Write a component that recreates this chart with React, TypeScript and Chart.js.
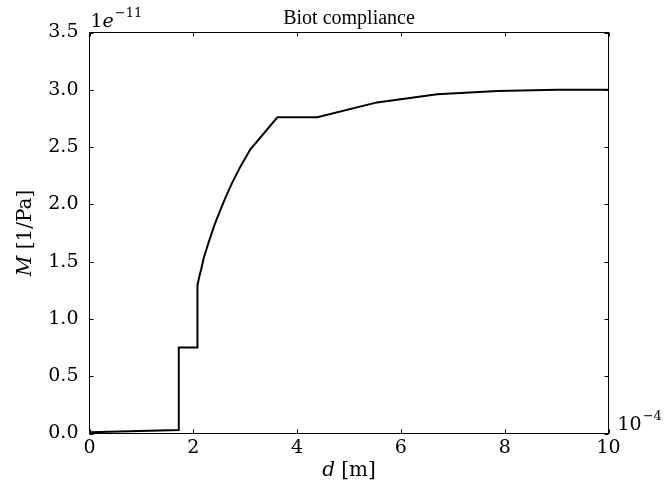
import React, { useEffect, useRef } from "react";
import { Chart, registerables } from "chart.js";

Chart.register(...registerables);

// d in units of 1e-4 m, M in units of 1e-11 1/Pa
const dValues = [0, 1.72, 1.72, 2.08, 2.08, 2.11, 2.15, 2.2, 2.29, 2.4, 2.52, 2.63, 2.75, 2.92, 3.1, 3.62, 4.39, 5.54, 6.7, 7.86, 9.02, 10];
const mValues = [0.01, 0.03, 0.75, 0.75, 1.29, 1.36, 1.43, 1.53, 1.66, 1.81, 1.95, 2.07, 2.19, 2.34, 2.48, 2.76, 2.76, 2.89, 2.96, 2.99, 3.0, 3.0];
const xTicks = [0, 2, 4, 6, 8, 10];
const yTicks = [0, 0.5, 1.0, 1.5, 2.0, 2.5, 3.0, 3.5];
const titleText = "Biot compliance";

const SERIF = '"Liberation Serif", "Times New Roman", serif';
const MATH = '"DejaVu Serif", serif';

const mplPlugin = {
  id: "mplAxes",
  afterDraw(chart: any) {
    const { ctx, chartArea: a, scales } = chart;
    const xs = scales.x;
    const ys = scales.y;
    ctx.save();
    ctx.strokeStyle = "#000";
    ctx.lineWidth = 1;
    // frame
    ctx.strokeRect(a.left, a.top, a.right - a.left, a.bottom - a.top);
    // inward ticks on all sides
    const tl = 4;
    ctx.beginPath();
    xTicks.forEach((v) => {
      const px = Math.round(xs.getPixelForValue(v)) + 0.5;
      ctx.moveTo(px, a.bottom);
      ctx.lineTo(px, a.bottom - tl);
      ctx.moveTo(px, a.top);
      ctx.lineTo(px, a.top + tl);
    });
    yTicks.forEach((v) => {
      const py = Math.round(ys.getPixelForValue(v)) + 0.5;
      ctx.moveTo(a.left, py);
      ctx.lineTo(a.left + tl, py);
      ctx.moveTo(a.right, py);
      ctx.lineTo(a.right - tl, py);
    });
    ctx.stroke();

    ctx.fillStyle = "#000";
    ctx.textBaseline = "alphabetic";
    // title
    ctx.font = `20px ${SERIF}`;
    ctx.textAlign = "center";
    ctx.fillText(titleText, (a.left + a.right) / 2, 24);

    // y offset text 1e-11
    ctx.textAlign = "left";
    ctx.font = `19px ${MATH}`;
    ctx.fillText("1", a.left + 1, 27);
    const w1 = ctx.measureText("1").width;
    ctx.font = `italic 19px ${MATH}`;
    ctx.fillText("e", a.left + 1 + w1, 27);
    const w2 = ctx.measureText("e").width;
    ctx.font = `13px ${MATH}`;
    ctx.fillText("\u221211", a.left + 2 + w1 + w2, 17);

    // x offset text 10^-4
    ctx.font = `19px ${MATH}`;
    ctx.fillText("10", a.right + 9, 430);
    const w3 = ctx.measureText("10").width;
    ctx.font = `13px ${MATH}`;
    ctx.fillText("\u22124", a.right + 10 + w3, 420);

    // x axis label: d [m]
    ctx.font = `italic 20px ${MATH}`;
    const dw = ctx.measureText("d").width;
    ctx.font = `20px ${MATH}`;
    const rw = ctx.measureText(" [m]").width;
    const cx = (a.left + a.right) / 2;
    const sx = cx - (dw + rw) / 2;
    ctx.font = `italic 20px ${MATH}`;
    ctx.fillText("d", sx, 476);
    ctx.font = `20px ${MATH}`;
    ctx.fillText(" [m]", sx + dw, 476);

    // y axis label: M [1/Pa]
    ctx.translate(31, (a.top + a.bottom) / 2);
    ctx.rotate(-Math.PI / 2);
    ctx.font = `italic 20px ${MATH}`;
    const mw = ctx.measureText("M").width;
    ctx.font = `20px ${MATH}`;
    const pw = ctx.measureText(" [1/Pa]").width;
    const sy = -(mw + pw) / 2;
    ctx.font = `italic 20px ${MATH}`;
    ctx.fillText("M", sy, 0);
    ctx.font = `20px ${MATH}`;
    ctx.fillText(" [1/Pa]", sy + mw, 0);
    ctx.restore();
  },
};

export default function App() {
  const ref = useRef<HTMLCanvasElement | null>(null);
  useEffect(() => {
    document.body.style.margin = "0";
    const canvas = ref.current;
    if (!canvas) return;
    const points = dValues.map((d, i) => ({ x: d, y: mValues[i] }));
    const chart = new Chart(canvas, {
      type: "line",
      data: {
        datasets: [
          {
            data: points,
            borderColor: "#000",
            borderWidth: 2,
            pointRadius: 0,
            tension: 0,
            fill: false,
            clip: 2,
          },
        ],
      },
      options: {
        animation: false,
        responsive: false,
        events: [],
        layout: { padding: { left: 0, right: 62.5, top: 32.5, bottom: 0 } },
        plugins: { legend: { display: false }, title: { display: false }, tooltip: { enabled: false } },
        scales: {
          x: {
            type: "linear",
            min: 0,
            max: 10,
            afterFit: (s: any) => {
              s.height = 63.5;
            },
            afterBuildTicks: (s: any) => {
              s.ticks = xTicks.map((v) => ({ value: v }));
            },
            grid: { display: false, drawTicks: false },
            border: { display: false },
            ticks: {
              padding: 3,
              color: "#000",
              font: { family: MATH, size: 19 },
              callback: (v: any) => String(v),
            },
          },
          y: {
            type: "linear",
            min: 0,
            max: 3.5,
            afterFit: (s: any) => {
              s.width = 89.5;
            },
            afterBuildTicks: (s: any) => {
              s.ticks = yTicks.map((v) => ({ value: v }));
            },
            grid: { display: false, drawTicks: false },
            border: { display: false },
            ticks: {
              padding: 11,
              color: "#000",
              font: { family: MATH, size: 19 },
              callback: (v: any) => Number(v).toFixed(1),
            },
          },
        },
      },
      plugins: [mplPlugin],
    });
    return () => chart.destroy();
  }, []);
  return (
    <div style={{ position: "absolute", left: 0, top: 0, width: 671, height: 497 }}>
      <canvas ref={ref} width={671} height={497} style={{ width: 671, height: 497, display: "block" }} />
    </div>
  );
}
